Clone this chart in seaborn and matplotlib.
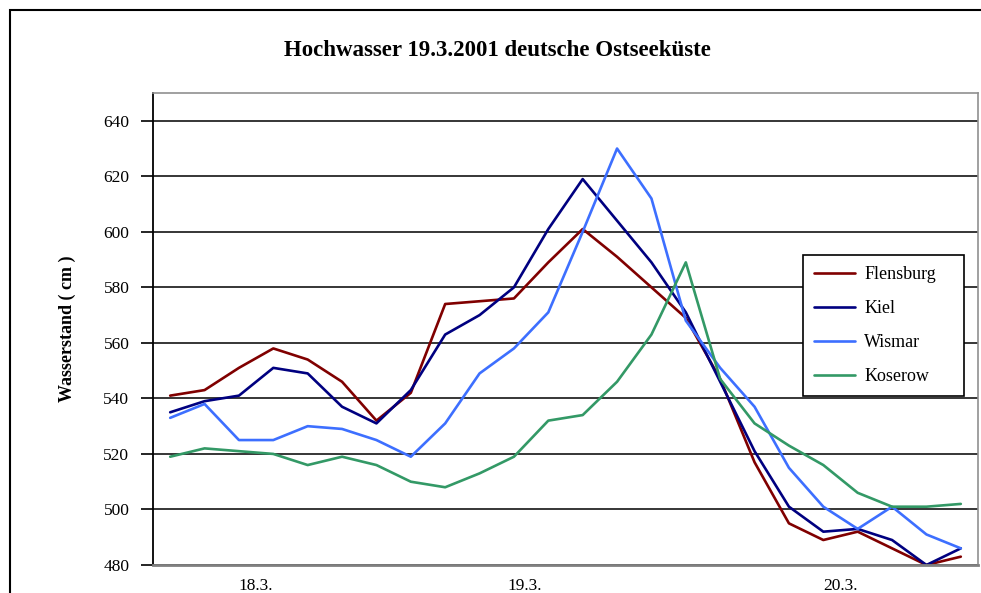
import numpy as np
import pandas as pd
import matplotlib
matplotlib.use("Agg")
import matplotlib.pyplot as plt
from matplotlib.patches import Rectangle
import seaborn as sns

# Pegelstaende (cm), 24 Messzeitpunkte 18.3. - 20.3.2001
stations = ["Flensburg", "Kiel", "Wismar", "Koserow"]
flensburg = [541, 543, 551, 558, 554, 546, 532, 542, 574, 575, 576, 589,
             601, 591, 580, 569, 547, 517, 495, 489, 492, 486, 480, 483]
kiel      = [535, 539, 541, 551, 549, 537, 531, 543, 563, 570, 580, 601,
             619, 604, 589, 571, 546, 521, 501, 492, 493, 489, 480, 486]
wismar    = [533, 538, 525, 525, 530, 529, 525, 519, 531, 549, 558, 571,
             600, 630, 612, 568, 551, 537, 515, 501, 493, 501, 491, 486]
koserow   = [519, 522, 521, 520, 516, 519, 516, 510, 508, 513, 519, 532,
             534, 546, 563, 589, 547, 531, 523, 516, 506, 501, 501, 502]
day_labels = ["18.3.", "19.3.", "20.3."]
day_pos = [2.5, 10.3, 19.5]
y_ticks = [480, 500, 520, 540, 560, 580, 600, 620, 640]

colors = {"Flensburg": "#800000", "Kiel": "#000080",
          "Wismar": "#3D6FFF", "Koserow": "#339966"}

df = pd.DataFrame({"Flensburg": flensburg, "Kiel": kiel,
                   "Wismar": wismar, "Koserow": koserow})
df["t"] = np.arange(len(df))
long = df.melt(id_vars="t", var_name="Station", value_name="Wasserstand")

sns.set_style("white")
plt.rcParams["font.family"] = ["Liberation Serif", "DejaVu Serif"]
plt.rcParams.update({"text.color": "black", "axes.labelcolor": "black",
                     "xtick.color": "black", "ytick.color": "black"})

fig = plt.figure(figsize=(9.81, 5.93), dpi=100)
ax = fig.add_axes([153/981, 1-565/593, (978-153)/981, (565-93)/593])

sns.lineplot(data=long, x="t", y="Wasserstand", hue="Station",
             hue_order=stations, palette=colors, linewidth=1.9, ax=ax)

ax.set_xlim(-0.5, 23.5)
ax.set_ylim(480, 650)
ax.set_yticks(y_ticks)
ax.set_yticklabels([str(v) for v in y_ticks], fontsize=12.5)
ax.set_xticks(day_pos)
ax.set_xticklabels(day_labels, fontsize=12.5)
ax.tick_params(axis="x", length=0, pad=9)
ax.tick_params(axis="y", length=9, width=1.2, color="black", pad=8,
               direction="out", left=True)
ax.set_xlabel("")
ax.set_ylabel("Wasserstand ( cm )", fontsize=13, fontweight="bold",
              labelpad=20)
ax.yaxis.grid(True, color="black", linewidth=1.1)
ax.set_axisbelow(True)

ax.spines["left"].set_color("black")
ax.spines["left"].set_linewidth(1.3)
ax.spines["bottom"].set_color("#808080")
ax.spines["bottom"].set_linewidth(2)
for s in ["top", "right"]:
    ax.spines[s].set_color("#909090")
    ax.spines[s].set_linewidth(1.2)

leg = ax.legend(loc="upper left",
                bbox_to_anchor=(803/981, 1-397/593, 161/981, 142/593),
                bbox_transform=fig.transFigure, mode="expand", fontsize=13,
                frameon=True, fancybox=False, framealpha=1,
                edgecolor="black", handlelength=2.3, labelspacing=0.95,
                borderpad=0.6, handletextpad=0.5, borderaxespad=0)
leg.get_frame().set_linewidth(1.2)

fig.text(497/981, 1-50/593, "Hochwasser 19.3.2001 deutsche Ostseeküste",
         ha="center", va="center", fontsize=16.5, fontweight="bold")

# aeusserer Rahmen
fig.patches.append(Rectangle((10/981, -0.1), 1.1, 1-10/593+0.1,
                             transform=fig.transFigure, fill=False,
                             edgecolor="black", linewidth=1.5))

fig.savefig("out.png", dpi=100)
